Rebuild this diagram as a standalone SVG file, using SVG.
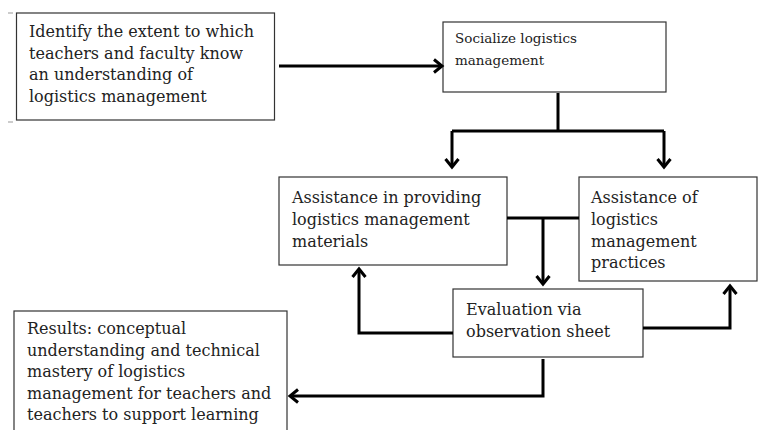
<svg xmlns="http://www.w3.org/2000/svg" width="758" height="430" viewBox="0 0 758 430">
<defs>
<style>
.box{fill:#fff;stroke:#333;stroke-width:1.2}
.t{font-family:"DejaVu Serif","Liberation Serif",serif;font-size:16px;fill:#222}
.s{font-size:13.5px}
.c{fill:none;stroke:#000;stroke-width:3}
.tick{stroke:#999;stroke-width:1}
</style>
<marker id="ah" markerUnits="userSpaceOnUse" markerWidth="20" markerHeight="20" viewBox="-12 -10 16 20" refX="0" refY="0" orient="auto">
<path d="M-8,-6.5 L0,0 L-8,6.5" fill="none" stroke="#000" stroke-width="3"/>
</marker>
</defs>
<rect width="758" height="430" fill="#fff"/>
<line class="tick" x1="8" y1="13" x2="13" y2="13"/>
<line class="tick" x1="8" y1="122" x2="13" y2="122"/>
<g id="identify">
<rect class="box" x="16.5" y="13" width="258" height="107"/>
<text class="t" x="29"><tspan x="29" y="37">Identify the extent to which</tspan><tspan x="29" y="59">teachers and faculty know</tspan><tspan x="29" y="80">an understanding of</tspan><tspan x="29" y="102">logistics management</tspan></text>
</g>
<g id="socialize">
<rect class="box" x="443" y="22" width="223" height="70"/>
<text class="t s"><tspan x="455" y="43">Socialize logistics</tspan><tspan x="455" y="65">management</tspan></text>
</g>
<g id="materials">
<rect class="box" x="279" y="177" width="228" height="88"/>
<text class="t"><tspan x="292" y="203">Assistance in providing</tspan><tspan x="292" y="225">logistics management</tspan><tspan x="292" y="247">materials</tspan></text>
</g>
<g id="practices">
<rect class="box" x="579" y="177" width="178" height="104"/>
<text class="t"><tspan x="591" y="203">Assistance of</tspan><tspan x="591" y="225">logistics</tspan><tspan x="591" y="247">management</tspan><tspan x="591" y="268">practices</tspan></text>
</g>
<g id="evaluation">
<rect class="box" x="453" y="289" width="190" height="68"/>
<text class="t"><tspan x="466" y="315">Evaluation via</tspan><tspan x="466" y="337">observation sheet</tspan></text>
</g>
<g id="results">
<rect class="box" x="14" y="311" width="273" height="130"/>
<text class="t"><tspan x="27" y="334">Results: conceptual</tspan><tspan x="27" y="356">understanding and technical</tspan><tspan x="27" y="377">mastery of logistics</tspan><tspan x="27" y="399">management for teachers and</tspan><tspan x="27" y="420">teachers to support learning</tspan></text>
</g>
<g id="connectors">
<path class="c" d="M279,66 H442" marker-end="url(#ah)"/>
<path class="c" d="M558,93 V131"/>
<path class="c" d="M452,131 H664"/>
<path class="c" d="M452,131 V167" marker-end="url(#ah)"/>
<path class="c" d="M664,131 V167" marker-end="url(#ah)"/>
<path class="c" d="M507,218 H579"/>
<path class="c" d="M543,218 V284" marker-end="url(#ah)"/>
<path class="c" d="M453,333 H359 V269" marker-end="url(#ah)"/>
<path class="c" d="M643,328 H730 V286" marker-end="url(#ah)"/>
<path class="c" d="M543,359 V396 H290" marker-end="url(#ah)"/>
</g>
</svg>
